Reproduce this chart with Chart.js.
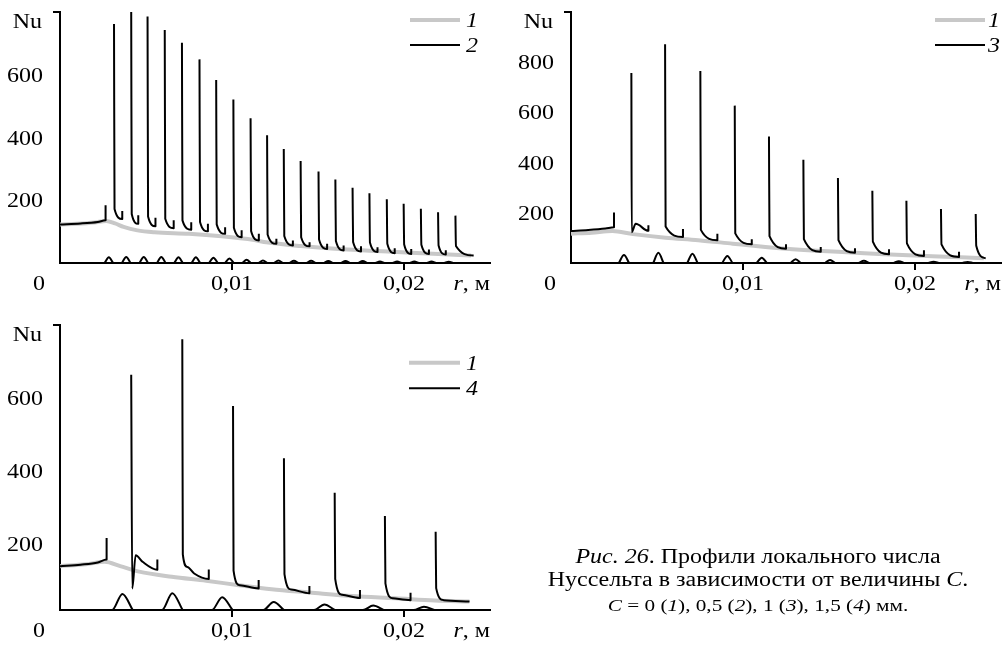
<!DOCTYPE html>
<html lang="ru">
<head>
<meta charset="utf-8">
<title>Профили локального числа Нуссельта</title>
<script src="https://cdn.jsdelivr.net/npm/chart.js@4.4.1/dist/chart.umd.min.js"></script>
<style>
  html, body { margin: 0; padding: 0; background: #fff; }
  #page { position: relative; width: 1004px; height: 646px; overflow: hidden; }
  #page canvas { position: absolute; }
  #c2 { left: 0; top: 0; }
  #c3 { left: 502px; top: 0; }
  #c4 { left: 0; top: 320px; }
  .cap {
    position: absolute; left: 540px; width: 436px;
    text-align: center; white-space: nowrap; color: #000;
    font-family: 'Liberation Serif', 'Times New Roman', serif;
    font-size: 20px; line-height: 23px;
    transform: scaleX(1.2);
  }
</style>
</head>
<body>
<div id="page">
  <canvas id="c2" width="502" height="300"></canvas>
  <canvas id="c3" width="502" height="300"></canvas>
  <canvas id="c4" width="502" height="326"></canvas>
  <div class="cap" style="top:545px"><i>Рис. 26</i>. Профили локального числа</div>
  <div class="cap" style="top:568px">Нуссельта в зависимости от величины <i>C</i>.</div>
  <div class="cap" style="top:594px; font-size:17.7px"><i>C</i> = 0 (<i>1</i>), 0,5 (<i>2</i>), 1 (<i>3</i>), 1,5 (<i>4</i>) мм.</div>
</div>

<script>
// r in metres, Nu dimensionless

const xTicks = [0.01, 0.02];
const rMax = 0.025;

// ---- panel with curve 2 (C = 0,5 mm) ----
const yTicks2 = [200, 400, 600, 800];
const base2R = [0, 0.001, 0.002, 0.0027, 0.0032, 0.0037, 0.0045, 0.0055, 0.0075, 0.0094, 0.0113, 0.012, 0.014, 0.0158, 0.018, 0.0196, 0.022, 0.0239];
const base2Nu = [123, 125, 129, 134, 126, 115, 104, 98, 93, 85, 73, 66, 54, 46, 39, 35, 29, 24];
// each row is one continuous piece of the curve: [r, Nu] points
const seg2 = [
  [[0, 123], [0.0012, 126], [0.0022, 131], [0.00265, 136], [0.00265, 184]],
  [[0.00314, 762], [0.00317, 172], [0.00362, 140], [0.00362, 166]],
  [[0.00414, 800], [0.00417, 156], [0.00455, 125], [0.00455, 152]],
  [[0.00509, 786], [0.00512, 148], [0.00555, 117], [0.00555, 144]],
  [[0.00609, 743], [0.00612, 141], [0.00661, 111], [0.00661, 136]],
  [[0.00709, 702], [0.00712, 136], [0.00763, 106], [0.00763, 130]],
  [[0.00811, 649], [0.00814, 131], [0.0086, 101], [0.0086, 125]],
  [[0.00908, 583], [0.00911, 123], [0.0096, 93], [0.0096, 114]],
  [[0.01008, 521], [0.01011, 112], [0.01056, 82], [0.01056, 104]],
  [[0.01108, 461], [0.01111, 102], [0.01156, 72], [0.01156, 93]],
  [[0.01204, 407], [0.01207, 91], [0.01258, 61], [0.01258, 77]],
  [[0.01301, 363], [0.01304, 86], [0.01354, 56], [0.01354, 72]],
  [[0.01399, 325], [0.01402, 82], [0.01451, 53], [0.01451, 66]],
  [[0.01503, 292], [0.01506, 75], [0.01553, 45], [0.01553, 61]],
  [[0.01601, 266], [0.01604, 70], [0.01649, 40], [0.01649, 56]],
  [[0.01701, 240], [0.01704, 67], [0.0175, 37], [0.0175, 53]],
  [[0.01799, 222], [0.01802, 65], [0.01846, 35], [0.01846, 50]],
  [[0.019, 203], [0.01903, 61], [0.01946, 31], [0.01946, 47]],
  [[0.01998, 189], [0.02001, 59], [0.02042, 29], [0.02042, 45]],
  [[0.02098, 173], [0.02101, 58], [0.02145, 29], [0.02145, 43]],
  [[0.02198, 162], [0.02201, 56], [0.02243, 27], [0.02243, 41]],
  [[0.02299, 151], [0.02302, 54], [0.02405, 24]]
];
const bump2R = [0.00284, 0.00385, 0.00487, 0.00589, 0.00689, 0.0079, 0.00892, 0.00985, 0.01085, 0.0118, 0.0127, 0.0136, 0.0146, 0.0156, 0.0166, 0.0176, 0.0186, 0.0196, 0.0206, 0.0216, 0.0226];
const bump2Nu = [18, 19, 19, 19, 18, 18, 17, 14, 10, 8, 8, 7, 7, 6, 6, 6, 5, 5, 5, 5, 4];
const bump2Half = 0.00025;

// ---- panel with curve 3 (C = 1 mm) ----
const yTicks3 = [200, 400, 600, 800, 1000];
const base3R = [0, 0.0012, 0.0024, 0.0036, 0.0055, 0.0074, 0.0094, 0.0113, 0.0125, 0.0143, 0.0163, 0.0182, 0.021, 0.024];
const base3Nu = [117, 121, 127, 115, 101, 91, 77, 64, 57, 49, 42, 35, 27, 19];
const seg3 = [
  [[0, 127], [0.001, 131], [0.002, 137], [0.0025, 142], [0.0025, 201]],
  [[0.00351, 757], [0.00353, 123], [0.00376, 156], [0.0045, 128], [0.0045, 150]],
  [[0.00547, 872], [0.0055, 145], [0.00651, 104], [0.00651, 135]],
  [[0.00752, 765], [0.00755, 132], [0.00851, 91], [0.00851, 117]],
  [[0.00952, 627], [0.00955, 118], [0.01051, 75], [0.01051, 95]],
  [[0.01151, 504], [0.01154, 107], [0.0125, 57], [0.0125, 75]],
  [[0.01351, 411], [0.01354, 95], [0.01452, 45], [0.01452, 64]],
  [[0.01552, 339], [0.01555, 91], [0.01651, 41], [0.01651, 59]],
  [[0.01752, 288], [0.01755, 85], [0.01849, 35], [0.01849, 55]],
  [[0.0195, 248], [0.01953, 78], [0.02052, 28], [0.02052, 51]],
  [[0.02151, 215], [0.02154, 74], [0.02256, 24], [0.02256, 45]],
  [[0.02353, 195], [0.02356, 69], [0.02411, 19]]
];
const bump3R = [0.00308, 0.00508, 0.00706, 0.00909, 0.01109, 0.01306, 0.01506, 0.01703, 0.01906, 0.02108, 0.02306];
const bump3Nu = [32, 41, 37, 28, 21, 15, 12, 9, 7, 5, 4];
const bump3Half = 0.0003;

// ---- panel with curve 4 (C = 1,5 mm) ----
const yTicks4 = [200, 400, 600, 800];
const base4R = [0, 0.0015, 0.0026, 0.0035, 0.0046, 0.0065, 0.0085, 0.0104, 0.0123, 0.0145, 0.017, 0.0195, 0.0218, 0.0238];
const base4Nu = [140, 145, 152, 140, 125, 111, 100, 88, 77, 68, 58, 52, 46, 43];
const seg4 = [
  [[0, 140], [0.0012, 144], [0.0022, 150], [0.00271, 158], [0.00271, 217]],
  [[0.00414, 664], [0.0042, 79], [0.0044, 170], [0.0048, 152], [0.00566, 130], [0.00566, 158]],
  [[0.00711, 761], [0.00714, 172], [0.0074, 138], [0.0078, 120], [0.00865, 105], [0.00865, 131]],
  [[0.01006, 578], [0.01009, 128], [0.01045, 88], [0.01155, 79], [0.01155, 102]],
  [[0.01302, 435], [0.01305, 118], [0.01345, 76], [0.0145, 66], [0.0145, 86]],
  [[0.01597, 341], [0.016, 105], [0.0164, 62], [0.01744, 53], [0.01744, 75]],
  [[0.01889, 277], [0.01892, 93], [0.01935, 52], [0.02038, 47], [0.02038, 67]],
  [[0.02184, 234], [0.02187, 80], [0.0223, 47], [0.02381, 43]]
];
const bump4R = [0.00363, 0.00653, 0.00943, 0.01242, 0.01537, 0.01821, 0.02116];
const bump4Nu = [64, 66, 55, 42, 35, 32, 29];
const bump4Half = 0.0006;
const bump4Tail = 0.0004;

// ---------------------------------------------------------------

const GRAY = '#c8c8c8';
const BLACK = '#000';
const FONT = "20px 'Liberation Serif', 'Times New Roman', serif";
const WIDEN = 1.2; // the typeset digits are a bit wider than tall

function linePoints(rs, nus) {
  return rs.map((r, i) => ({ x: r, y: nus[i] }));
}

function segmentPoints(segs) {
  const pts = [];
  segs.forEach((seg, i) => {
    if (i > 0) pts.push({ x: seg[0][0], y: null });
    seg.forEach(([r, nu]) => pts.push({ x: r, y: nu }));
  });
  return pts;
}

function bumpPoints(rs, nus, half, floor, tail) {
  const pts = [];
  rs.forEach((r, i) => {
    if (i > 0) pts.push({ x: r - half, y: null });
    if (tail) pts.push({ x: r - half - tail, y: floor });
    pts.push({ x: r - half, y: floor }, { x: r, y: nus[i] }, { x: r + half, y: floor });
  });
  return pts;
}

// text runs: [[string, italic], ...]
function drawRun(ctx, parts, x, y, align) {
  ctx.save();
  ctx.translate(x, y);
  ctx.scale(WIDEN, 1);
  ctx.textAlign = 'left';
  ctx.textBaseline = 'alphabetic';
  ctx.fillStyle = '#000';
  const widths = parts.map(([t, it]) => {
    ctx.font = (it ? 'italic ' : '') + FONT;
    return ctx.measureText(t).width;
  });
  const total = widths.reduce((a, b) => a + b, 0);
  let cx = align === 'right' ? -total : align === 'center' ? -total / 2 : 0;
  parts.forEach(([t, it], i) => {
    ctx.font = (it ? 'italic ' : '') + FONT;
    ctx.fillText(t, cx, 0);
    cx += widths[i];
  });
  ctx.restore();
}

// axis numbers, axis names and the little legend in the corner
const axisText = {
  id: 'axisText',
  afterDraw(chart, args, opts) {
    const { ctx, chartArea: a } = chart;
    const { x, y } = chart.scales;
    y.ticks.forEach(t => {
      if (t.value === y.max) return;
      drawRun(ctx, [[String(t.value)]], a.left - 17, y.getPixelForValue(t.value) + 7, 'right');
    });
    x.ticks.forEach(t => {
      const txt = t.value.toFixed(2).replace('.', ',');
      drawRun(ctx, [[txt]], x.getPixelForValue(t.value), a.bottom + 27, 'center');
    });
    drawRun(ctx, [['0']], a.left - 21, a.bottom + 27, 'center');
    drawRun(ctx, [['r', true], [', м']], a.right, a.bottom + 27, 'right');
    drawRun(ctx, [['Nu']], a.left - 18, a.top + 16, 'right');

    const items = chart.data.datasets.filter(d => d.label).sort((p, q) => p.label.localeCompare(q.label));
    items.forEach((d, i) => {
      const ly = opts.y[i];
      ctx.save();
      ctx.strokeStyle = d.borderColor;
      ctx.lineWidth = d.borderWidth;
      ctx.beginPath();
      ctx.moveTo(opts.x1, ly);
      ctx.lineTo(opts.x2, ly);
      ctx.stroke();
      ctx.restore();
      drawRun(ctx, [[d.label, true]], opts.textX, ly + 7, 'left');
    });
  }
};

function makePanel(id, cfg) {
  const yMax = cfg.yTicks[cfg.yTicks.length - 1];
  return new Chart(document.getElementById(id), {
    type: 'line',
    data: {
      datasets: [
        {
          label: cfg.label,
          data: segmentPoints(cfg.segs),
          borderColor: BLACK,
          borderWidth: 2
        },
        {
          label: '',
          data: bumpPoints(cfg.bumpR, cfg.bumpNu, cfg.bumpHalf, cfg.yMin, cfg.bumpTail),
          borderColor: BLACK,
          borderWidth: 2
        },
        {
          label: '1',
          data: linePoints(cfg.baseR, cfg.baseNu),
          borderColor: GRAY,
          borderWidth: 4
        }
      ]
    },
    options: {
      responsive: false,
      animation: false,
      events: [],
      spanGaps: false,
      elements: {
        point: { radius: 0 },
        line: { cubicInterpolationMode: 'monotone', fill: false, borderCapStyle: 'butt', borderJoinStyle: 'round' }
      },
      layout: { padding: cfg.padding },
      scales: {
        x: {
          type: 'linear',
          min: 0,
          max: rMax,
          afterFit: s => { s.height = cfg.xHeight; },
          afterBuildTicks: s => { s.ticks = xTicks.map(v => ({ value: v })); },
          ticks: { display: false },
          grid: { drawOnChartArea: false, drawTicks: true, tickLength: 7, lineWidth: 2, color: BLACK },
          border: { display: true, color: BLACK, width: 2 }
        },
        y: {
          type: 'linear',
          min: cfg.yMin,
          max: yMax,
          afterFit: s => { s.width = cfg.yWidth; },
          afterBuildTicks: s => { s.ticks = cfg.yTicks.map(v => ({ value: v })); },
          ticks: { display: false },
          grid: {
            drawOnChartArea: false,
            drawTicks: true,
            tickLength: 7,
            lineWidth: 2,
            color: c => (c.tick && c.tick.value === yMax ? BLACK : 'rgba(0,0,0,0)')
          },
          border: { display: true, color: BLACK, width: 2 }
        }
      },
      plugins: {
        legend: { display: false },
        tooltip: { enabled: false },
        axisText: cfg.legend
      }
    },
    plugins: [axisText]
  });
}

makePanel('c2', {
  label: '2', segs: seg2, baseR: base2R, baseNu: base2Nu,
  bumpR: bump2R, bumpNu: bump2Nu, bumpHalf: bump2Half,
  yMin: 0, yTicks: yTicks2,
  padding: { top: 12, right: 12, left: 0, bottom: 0 }, yWidth: 60, xHeight: 37,
  legend: { x1: 410, x2: 460, textX: 466, y: [20, 45] }
});

makePanel('c3', {
  label: '3', segs: seg3, baseR: base3R, baseNu: base3Nu,
  bumpR: bump3R, bumpNu: bump3Nu, bumpHalf: bump3Half,
  yMin: 0, yTicks: yTicks3,
  padding: { top: 12, right: 3, left: 0, bottom: 0 }, yWidth: 69, xHeight: 37,
  legend: { x1: 433, x2: 483, textX: 486, y: [20, 45] }
});

makePanel('c4', {
  label: '4', segs: seg4, baseR: base4R, baseNu: base4Nu,
  bumpR: bump4R, bumpNu: bump4Nu, bumpHalf: bump4Half, bumpTail: bump4Tail,
  yMin: 20, yTicks: yTicks4,
  padding: { top: 5, right: 12, left: 0, bottom: 0 }, yWidth: 60, xHeight: 36,
  legend: { x1: 409, x2: 460, textX: 466, y: [42.7, 68.3] }
});
</script>
</body>
</html>
